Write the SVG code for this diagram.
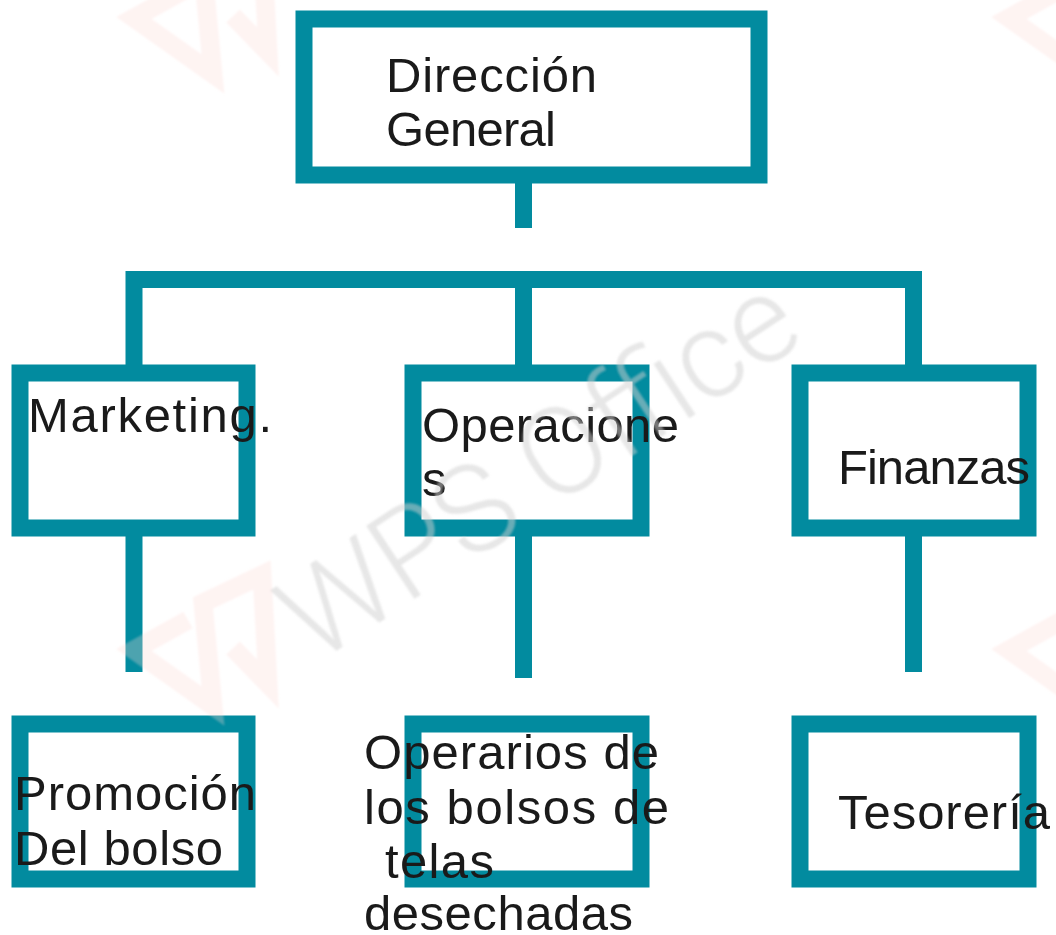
<svg xmlns="http://www.w3.org/2000/svg" width="1056" height="935" viewBox="0 0 1056 935">
<style>
.b{fill:none;stroke:#028b9f;stroke-width:17}
.c{fill:none;stroke:#028b9f;stroke-width:17}
text{font-family:"Liberation Sans",Arial,sans-serif;font-size:49px;fill:#1a1a1a}
text.wm{font-family:"Roboto","Liberation Sans",Arial,sans-serif;font-size:122px;font-weight:300;fill:#cfcfcf;opacity:.5}
.logo{fill:none;stroke:#fbd9d4;stroke-width:19;opacity:.3}
</style>
<defs>
<path id="wps-logo" class="logo" d="M188 620L134 650L213 706L203 603L262 575L268 684L233 648"/>
<filter id="soft"><feGaussianBlur stdDeviation="0.8"/></filter>
</defs>
<rect width="1056" height="935" fill="#fff"/>
<g id="connectors">
<path class="c" d="M523.500 183V228"/>
<path class="c" d="M134 365V279.500H913.500V365M523.500 279.500V365"/>
<path class="c" d="M134 536V672"/>
<path class="c" d="M523.500 536V678"/>
<path class="c" d="M913.500 536V672"/>
</g>
<g id="direccion"><rect class="b" x="304" y="19" width="455" height="156"/><text x="386" y="92" textLength="211" lengthAdjust="spacing">Dirección</text><text x="386" y="146" textLength="170" lengthAdjust="spacing">General</text></g>
<g id="marketing"><rect class="b" x="20" y="373" width="227" height="155"/><text x="28" y="432" textLength="244" lengthAdjust="spacing">Marketing.</text></g>
<g id="operaciones"><rect class="b" x="413" y="373" width="228" height="155"/><text x="422" y="442" textLength="257" lengthAdjust="spacing">Operacione</text><text x="422" y="496">s</text></g>
<g id="finanzas"><rect class="b" x="800" y="373" width="228" height="155"/><text x="838" y="484" textLength="192" lengthAdjust="spacing">Finanzas</text></g>
<g id="promocion"><rect class="b" x="20" y="724" width="227" height="155"/><text x="14" y="810" textLength="242" lengthAdjust="spacing">Promoción</text><text x="14" y="865" textLength="209" lengthAdjust="spacing">Del bolso</text></g>
<g id="operarios"><rect class="b" x="413" y="724" width="228" height="155"/><text x="364" y="769" textLength="295" lengthAdjust="spacing">Operarios de</text><text x="364" y="824" textLength="305" lengthAdjust="spacing">los bolsos de</text><text x="385" y="878" textLength="109" lengthAdjust="spacing">telas</text><text x="364" y="930" textLength="269" lengthAdjust="spacing">desechadas</text></g>
<g id="tesoreria"><rect class="b" x="800" y="724" width="228" height="155"/><text x="838" y="829" textLength="212" lengthAdjust="spacing">Tesorería</text></g>
<g id="watermark" filter="url(#soft)">
<use href="#wps-logo"/>
<use href="#wps-logo" y="-632"/>
<use href="#wps-logo" x="875"/>
<use href="#wps-logo" x="875" y="-632"/>
<text class="wm" transform="translate(315 665) rotate(-33.4)" textLength="590" lengthAdjust="spacing">WPS Office</text>
</g>
</svg>
